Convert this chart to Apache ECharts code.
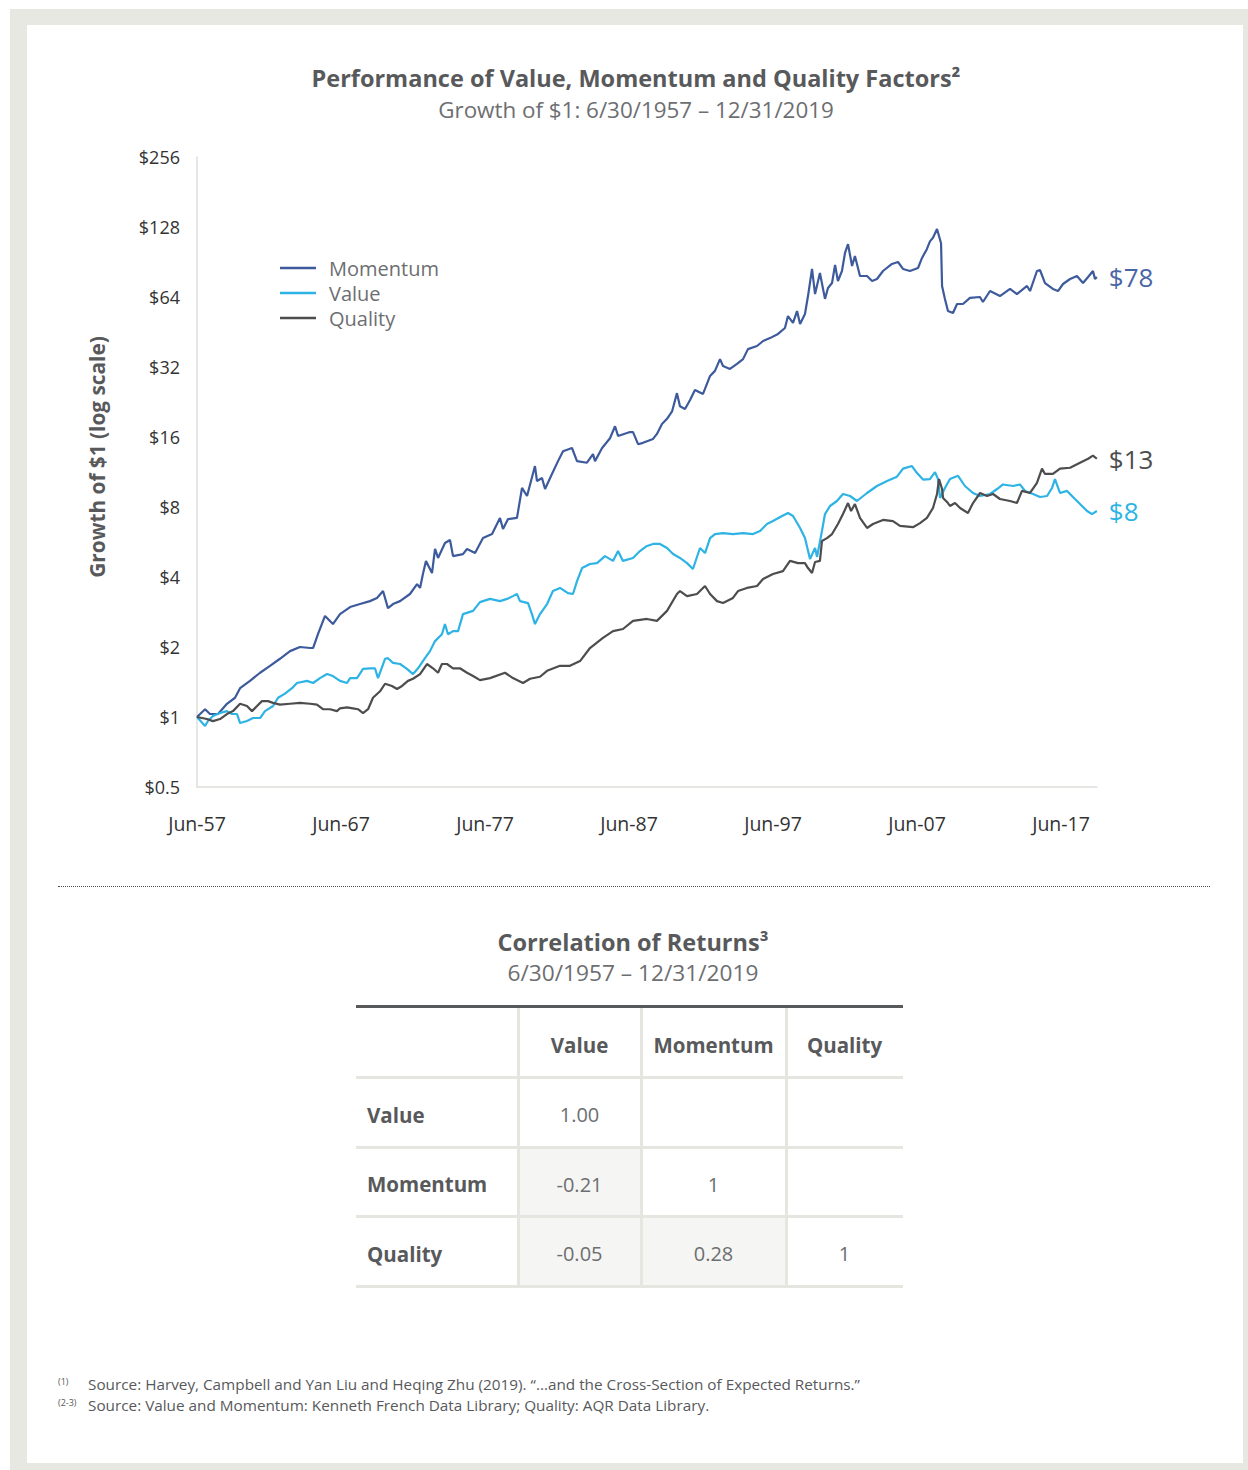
<!DOCTYPE html>
<html>
<head>
<meta charset="utf-8">
<script src="https://cdn.jsdelivr.net/npm/echarts@6/dist/echarts.min.js"></script>
<style>
  html, body { margin: 0; padding: 0; background: #ffffff; }
  body { width: 1248px; height: 1470px; position: relative; overflow: hidden; font-family: "Open Sans", sans-serif; }
  #frame { position: absolute; left: 10px; top: 9px; width: 1238px; height: 1461px; background: #e8e8e3; }
  #panel { position: absolute; left: 27px; top: 25px; width: 1216px; height: 1438px; background: #ffffff; }
  #chart { position: absolute; left: 0; top: 0; width: 1248px; height: 870px; }
  #sep { position: absolute; left: 58px; top: 886px; width: 1152px; height: 0; border-top: 1px dotted #4d4d4f; }
  .ttl { position: absolute; left: 0; width: 1266px; text-align: center; color: #58595b; white-space: nowrap; }
  .cell { position: absolute; box-sizing: border-box; display: flex; align-items: center; justify-content: center; color: #6d6e71; font-size: 20px; padding-top: 5px; }
  .hdr { font-weight: 700; color: #58595b; font-size: 20.5px; }
  .rowlab { justify-content: flex-start; padding-left: 11px; font-weight: 700; color: #58595b; font-size: 20.5px; }
  .hline { position: absolute; height: 3px; background: #e6e6e1; }
  .vline { position: absolute; width: 3px; background: #e6e6e1; }
  .foot { position: absolute; left: 88px; font-size: 15.3px; color: #58595b; white-space: nowrap; }
  .fsup { position: absolute; left: 58px; font-size: 9px; color: #58595b; white-space: nowrap; }
</style>
</head>
<body>
<div id="frame"></div>
<div id="panel"></div>
<div id="chart"></div>
<div id="sep"></div>
<div id="tableArea"></div>
<script>
// ---------------- DATA ----------------
const seriesNames = ['Momentum', 'Value', 'Quality'];

const momDates = [1957.5,1958.06,1958.40,1958.96,1959.58,1960.14,1960.49,1961.18,1961.88,1962.57,
  1963.26,1963.96,1964.65,1965.35,1965.56,1965.90,1966.39,1966.94,1967.43,1968.13,
  1968.82,1969.51,1970.0,1970.42,1970.76,1971.11,1971.60,1972.29,1972.78,1972.99,
  1973.19,1973.40,1973.82,1974.03,1974.24,1974.72,1975.07,1975.28,1975.97,1976.25,
  1976.81,1977.36,1977.99,1978.54,1978.75,1979.10,1979.72,1980.07,1980.42,1980.97,
  1981.11,1981.46,1981.67,1982.15,1982.57,1982.92,1983.54,1983.89,1984.58,1985.0,
  1985.14,1985.63,1986.18,1986.53,1986.74,1987.57,1987.78,1988.13,1988.47,1989.17,
  1989.44,1989.79,1990.14,1990.49,1990.83,1991.04,1991.39,1991.74,1992.08,1992.64,
  1993.13,1993.47,1993.82,1994.03,1994.51,1995.0,1995.42,1995.76,1996.39,1996.81,
  1997.29,1997.85,1998.33,1998.54,1998.89,1999.17,1999.38,1999.72,1999.93,2000.21,
  2000.42,2000.76,2001.11,2001.32,2001.60,2001.81,2002.01,2002.29,2002.5,2002.71,
  2002.99,2003.19,2003.54,2004.03,2004.38,2004.72,2005.14,2005.76,2006.18,2006.53,
  2007.01,2007.57,2007.85,2008.19,2008.40,2008.61,2008.89,2009.17,2009.24,2009.44,
  2009.65,2010.0,2010.28,2010.69,2011.18,2011.87,2012.08,2012.57,2013.26,2013.96,
  2014.44,2015.14,2015.35,2015.83,2016.04,2016.39,2016.94,2017.29,2017.64,2018.13,
  2018.61,2019.03,2019.38,2019.72,2019.86,2019.99];
const momValues = [1.00,1.08,1.03,1.03,1.14,1.21,1.33,1.43,1.55,1.66,
  1.78,1.92,2.00,1.98,1.98,2.27,2.72,2.51,2.77,2.97,
  3.06,3.15,3.25,3.48,2.94,3.06,3.15,3.38,3.73,3.59,
  4.12,4.69,4.16,5.28,4.83,5.60,5.77,4.92,5.02,5.28,
  5.07,5.88,6.12,7.18,6.43,7.10,7.18,9.66,8.92,12.0,
  10.35,10.66,9.56,11.1,12.6,13.9,14.35,12.6,12.4,13.5,
  12.6,14.35,15.8,17.8,16.16,16.8,16.8,14.9,15.1,15.7,
  16.5,18.2,19.15,20.6,24.7,21.7,21.1,23.1,25.5,24.5,
  29.3,30.8,34.6,32.3,31.4,33.0,34.6,38.2,39.4,41.4,
  42.6,44.4,47.1,53.0,49.5,55.7,49.0,54.1,64.6,84.5,
  65.9,81.2,62.8,70.0,73.5,87.9,75.0,82.8,99.0,108,
  87.0,96.0,78.8,78.8,75.0,76.5,82.8,88.8,90.5,84.5,
  82.8,85.3,94.2,103,111,115,125.5,109,71.4,62.8,
  55.7,54.6,59.7,59.7,63.4,64,60.9,67.9,64.6,69.3,
  65.9,71.4,67.9,82.8,83.6,73.5,69.3,67.9,72.8,76.5,
  78.8,73.5,78.0,82.8,76.5,78.0];

const valDates = [1957.5,1958.06,1958.26,1958.61,1959.10,1959.58,1959.93,1960.28,1960.49,1960.97,
  1961.39,1961.88,1962.22,1962.78,1963.13,1963.61,1964.10,1964.44,1965.14,1965.56,
  1966.04,1966.53,1966.94,1967.43,1967.92,1968.13,1968.61,1969.03,1969.51,1969.86,
  1970.07,1970.56,1970.76,1971.11,1971.60,1972.08,1972.50,1972.85,1973.33,1973.68,
  1974.03,1974.51,1974.72,1974.93,1975.28,1975.63,1975.97,1976.67,1977.15,1977.85,
  1978.54,1979.03,1979.44,1979.72,1979.93,1980.49,1980.76,1980.97,1981.32,1981.81,
  1982.22,1982.71,1983.26,1983.61,1983.89,1984.24,1984.79,1985.28,1985.83,1986.39,
  1986.74,1987.08,1987.78,1988.26,1988.75,1989.17,1989.65,1990.14,1990.56,1991.04,
  1991.53,1991.94,1992.43,1992.78,1993.13,1993.47,1994.03,1994.72,1995.42,1996.11,
  1996.60,1997.08,1997.50,1998.13,1998.54,1998.89,1999.38,1999.72,2000.07,2000.42,
  2000.56,2000.90,2001.11,2001.46,2001.94,2002.36,2002.85,2003.33,2004.03,2004.72,
  2005.42,2006.11,2006.53,2007.15,2007.50,2007.92,2008.40,2008.75,2008.96,2009.10,
  2009.44,2009.79,2010.35,2010.83,2011.39,2011.88,2012.57,2013.06,2013.47,2014.17,
  2014.65,2015.0,2015.56,2016.04,2016.53,2016.88,2017.08,2017.43,2017.92,2018.47,
  2018.96,2019.31,2019.65,2019.99];
const valValues = [1.00,0.915,0.961,1.01,1.04,1.06,1.03,1.03,0.942,0.961,
  0.99,0.99,1.06,1.115,1.21,1.26,1.33,1.40,1.43,1.40,
  1.47,1.53,1.50,1.43,1.40,1.47,1.47,1.61,1.62,1.62,
  1.47,1.78,1.79,1.71,1.69,1.61,1.53,1.62,1.79,1.92,
  2.12,2.27,2.51,2.27,2.34,2.34,2.77,2.86,3.12,3.22,
  3.15,3.22,3.31,3.38,3.15,3.09,2.77,2.51,2.77,3.06,
  3.48,3.59,3.41,3.38,3.84,4.37,4.55,4.59,4.92,4.69,
  5.17,4.69,4.83,5.17,5.44,5.55,5.55,5.33,5.02,4.83,
  4.59,4.33,5.33,5.07,5.88,6.12,6.18,6.12,6.18,6.12,
  6.31,6.76,6.96,7.32,7.54,7.32,6.50,5.88,4.78,5.33,
  4.88,6.31,7.46,8.08,8.49,9.10,8.92,8.49,9.19,9.85,
  10.35,10.8,11.7,12.0,11.2,10.5,10.55,11.3,10.55,8.75,
  9.66,10.55,10.9,9.85,9.19,8.92,9.10,9.56,10.0,9.85,
  10.0,9.38,9.10,8.83,8.92,9.66,10.55,9.19,9.38,8.66,
  8.08,7.69,7.46,7.69];

const qualDates = [1957.5,1958.19,1958.61,1959.10,1959.58,1960.0,1960.49,1960.97,1961.32,1961.67,
  1962.01,1962.43,1962.78,1963.26,1963.96,1964.65,1965.35,1965.83,1966.25,1966.74,
  1967.22,1967.43,1967.92,1968.33,1968.68,1969.03,1969.38,1969.72,1970.21,1970.56,
  1971.04,1971.39,1971.74,1972.15,1972.50,1972.99,1973.47,1973.89,1974.24,1974.51,
  1974.86,1975.28,1975.76,1976.25,1976.67,1977.15,1977.85,1978.89,1979.44,1980.14,
  1980.63,1981.32,1981.81,1982.71,1983.40,1984.10,1984.79,1985.69,1986.39,1987.08,
  1987.78,1988.75,1989.44,1990.14,1990.83,1991.04,1991.53,1992.22,1992.78,1993.13,
  1993.61,1994.03,1994.72,1995.07,1995.69,1996.39,1996.81,1997.50,1998.19,1998.68,
  1999.24,1999.72,1999.93,2000.21,2000.42,2000.76,2000.90,2001.25,2001.60,2002.01,
  2002.36,2002.71,2002.92,2003.19,2003.54,2004.03,2004.44,2005.14,2005.83,2006.32,
  2007.22,2007.71,2008.19,2008.61,2008.89,2009.03,2009.24,2009.31,2009.65,2009.79,
  2010.14,2010.49,2011.04,2011.39,2011.88,2012.36,2012.78,2013.26,2013.96,2014.44,
  2014.79,2015.35,2015.83,2016.18,2016.39,2016.94,2017.43,2018.13,2018.82,2019.38,
  2019.72,2019.99];
const qualValues = [1.00,0.98,0.96,0.98,1.03,1.06,1.14,1.115,1.06,1.115,
  1.17,1.17,1.15,1.13,1.14,1.15,1.14,1.13,1.08,1.08,
  1.06,1.09,1.10,1.09,1.08,1.04,1.08,1.21,1.29,1.39,
  1.36,1.32,1.36,1.43,1.46,1.53,1.69,1.62,1.55,1.69,
  1.69,1.62,1.62,1.55,1.50,1.44,1.47,1.55,1.47,1.40,
  1.46,1.49,1.58,1.66,1.66,1.74,1.98,2.19,2.34,2.39,
  2.59,2.64,2.59,2.86,3.38,3.48,3.31,3.38,3.66,3.38,
  3.15,3.09,3.25,3.48,3.59,3.66,3.92,4.12,4.24,4.69,
  4.59,4.59,4.37,4.16,4.64,4.69,5.71,5.88,6.12,6.76,
  7.46,8.32,7.69,8.24,7.18,6.50,6.76,7.04,6.96,6.63,
  6.55,6.82,7.18,7.92,9.10,10.55,9.56,8.75,8.32,8.08,
  8.32,7.92,7.54,8.32,9.19,8.92,9.10,8.66,8.49,8.32,
  9.38,9.19,10.15,11.7,11.1,11.1,11.7,11.8,12.4,12.9,
  13.3,12.9];

const yTickValues = [0.5, 1, 2, 4, 8, 16, 32, 64, 128, 256];
const xTickLabels = ['Jun-57', 'Jun-67', 'Jun-77', 'Jun-87', 'Jun-97', 'Jun-07', 'Jun-17'];

const tableCols = ['Value', 'Momentum', 'Quality'];
const tableRows = ['Value', 'Momentum', 'Quality'];
const corrValues = [
  ['1.00', '', ''],
  ['-0.21', '1', ''],
  ['-0.05', '0.28', '1']
];

// ---------------- STYLE ----------------
const FONT = '"Open Sans", "Noto Sans", sans-serif';
const colors = { Momentum: '#3d5a9c', Value: '#2db3e4', Quality: '#4d4d4f' };
const labelColors = { Momentum: '#4a65a6', Value: '#2db3e4', Quality: '#4d4d4f' };
const startYear = 1957.5;
const toMonths = y => (y - startYear) * 12;
function pairs(dates, vals) { return dates.map((d, i) => [toMonths(d), vals[i]]); }

const seriesData = {
  Momentum: pairs(momDates, momValues),
  Value: pairs(valDates, valValues),
  Quality: pairs(qualDates, qualValues)
};

const chart = echarts.init(document.getElementById('chart'), null, { renderer: 'svg' });

const option = {
  animation: false,
  backgroundColor: 'transparent',
  grid: { left: 197, top: 157, width: 900, height: 630, containLabel: false, outerBoundsMode: 'none' },
  graphic: [
    { type: 'text', x: 636, y: 78, style: { text: 'Performance of Value, Momentum and Quality Factors\u00b2', fill: '#58595b',
      font: 'bold 23.5px ' + FONT, align: 'center', verticalAlign: 'middle' } },
    { type: 'text', x: 636, y: 109, style: { text: 'Growth of $1: 6/30/1957 \u2013 12/31/2019', fill: '#6d6e71',
      font: '22.4px ' + FONT, align: 'center', verticalAlign: 'middle' } },
    { type: 'text', x: 97, y: 457, rotation: Math.PI / 2, style: { text: 'Growth of $1 (log scale)', fill: '#58595b',
      font: 'bold 20.8px ' + FONT, align: 'center', verticalAlign: 'middle' } }
  ],
  legend: {
    orient: 'vertical', left: 280, top: 258, padding: 0, itemWidth: 36, itemHeight: 2.5, itemGap: 5,
    icon: 'rect',
    data: seriesNames,
    textStyle: { fontSize: 20, lineHeight: 20, color: '#6d6e71', fontFamily: FONT, padding: [0, 0, 0, 8] }
  },
  xAxis: {
    type: 'value', min: 0, max: toMonths(2020.0), interval: 120,
    axisLine: { show: true, onZero: false, lineStyle: { color: '#deded9', width: 1.5 } },
    axisTick: { show: false },
    splitLine: { show: false },
    axisLabel: {
      margin: 26, fontSize: 19.5, color: '#333333', fontFamily: FONT, showMaxLabel: false,
      formatter: v => (v % 120 === 0 ? xTickLabels[v / 120] || '' : '')
    }
  },
  yAxis: {
    type: 'log', logBase: 2, min: yTickValues[0], max: yTickValues[yTickValues.length - 1],
    axisLine: { show: true, lineStyle: { color: '#deded9', width: 1.5 } },
    axisTick: { show: false },
    splitLine: { show: false },
    axisLabel: { margin: 17, fontSize: 18, color: '#333333', fontFamily: FONT,
      formatter: v => '$' + (+(+v).toPrecision(6)) }
  },
  series: seriesNames.map(name => ({
    name: name, type: 'line', data: seriesData[name], symbol: 'none', showSymbol: false,
    lineStyle: { width: 2.2, color: colors[name] }, itemStyle: { color: colors[name] },
    emphasis: { disabled: true },
    endLabel: { show: true, distance: 12, fontSize: 26, fontFamily: FONT, color: labelColors[name],
      formatter: p => '$' + Math.round(p.value[1]) }
  }))
};
chart.setOption(option);

// ---------------- TABLE & NOTES (HTML) ----------------
const area = document.getElementById('tableArea');
function add(html) { area.insertAdjacentHTML('beforeend', html); }
add('<div class="ttl" style="top:926px;font-weight:700;font-size:23.5px;">Correlation of Returns\u00b3</div>');
add('<div class="ttl" style="top:957px;font-size:22.7px;color:#6d6e71;">6/30/1957 \u2013 12/31/2019</div>');

const colX = [356, 518, 641, 786, 903];
const rowY = [1008, 1077, 1147, 1216, 1286];
const shaded = [[1, 0], [2, 0], [2, 1]];
shaded.forEach(([r, c]) => {
  add(`<div style="position:absolute;left:${colX[c + 1]}px;top:${rowY[r + 1]}px;width:${colX[c + 2] - colX[c + 1]}px;height:${rowY[r + 2] - rowY[r + 1]}px;background:#f5f5f3;"></div>`);
});
add(`<div style="position:absolute;left:${colX[0]}px;top:${rowY[0] - 3}px;width:${colX[4] - colX[0]}px;height:3px;background:#58595b;"></div>`);
for (let i = 1; i < rowY.length; i++) {
  add(`<div class="hline" style="left:${colX[0]}px;top:${rowY[i] - 1}px;width:${colX[4] - colX[0]}px;"></div>`);
}
for (let i = 1; i < colX.length - 1; i++) {
  add(`<div class="vline" style="left:${colX[i] - 1}px;top:${rowY[0]}px;height:${rowY[4] - rowY[0] + 1}px;"></div>`);
}
tableCols.forEach((c, i) => {
  add(`<div class="cell hdr" style="left:${colX[i + 1]}px;top:${rowY[0]}px;width:${colX[i + 2] - colX[i + 1]}px;height:${rowY[1] - rowY[0]}px;">${c}</div>`);
});
tableRows.forEach((r, ri) => {
  add(`<div class="cell rowlab" style="left:${colX[0]}px;top:${rowY[ri + 1]}px;width:${colX[1] - colX[0]}px;height:${rowY[ri + 2] - rowY[ri + 1]}px;">${r}</div>`);
  corrValues[ri].forEach((v, ci) => {
    if (v === '') return;
    add(`<div class="cell" style="left:${colX[ci + 1]}px;top:${rowY[ri + 1]}px;width:${colX[ci + 2] - colX[ci + 1]}px;height:${rowY[ri + 2] - rowY[ri + 1]}px;">${v}</div>`);
  });
});
add('<div class="fsup" style="top:1375px;">(1)</div>');
add('<div class="foot" style="top:1374px;">Source: Harvey, Campbell and Yan Liu and Heqing Zhu (2019). \u201c...and the Cross-Section of Expected Returns.\u201d</div>');
add('<div class="fsup" style="top:1396px;">(2-3)</div>');
add('<div class="foot" style="top:1395px;">Source: Value and Momentum: Kenneth French Data Library; Quality: AQR Data Library.</div>');
</script>
</body>
</html>
